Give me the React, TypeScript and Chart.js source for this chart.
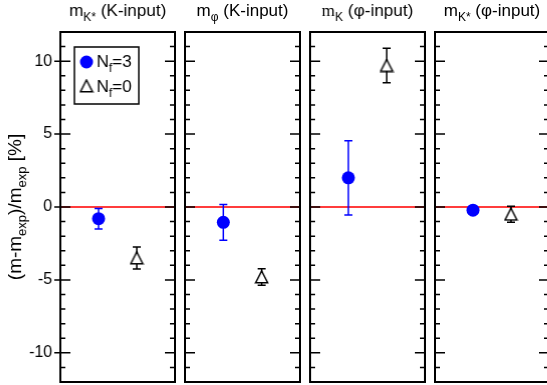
import React, { useEffect, useRef } from 'react';
import { Chart, registerables } from 'chart.js';

Chart.register(...registerables);

// ---------------- data ----------------
const panelNames = ['mK* (K-input)', 'mφ (K-input)', 'mK (φ-input)', 'mK* (φ-input)'];
const seriesLabels = ['Nf=3', 'Nf=0'];
const xPositions = [1, 2];
const nf3Values = [-0.8, -1.05, 2.0, -0.22];
const nf3Errors = [0.7, 1.23, 2.55, 0.15];
const nf0Values = [-3.5, -4.8, 9.7, -0.5];
const nf0Errors = [0.75, 0.57, 1.18, 0.55];
const yTickLabels = [-10, -5, 0, 5, 10];
const yMin = -12;
const yMax = 12;

type Part = { t: string; sub?: boolean; serif?: boolean };

const titleParts: Part[][] = [
  [{ t: 'm' }, { t: 'K*', sub: true }, { t: ' (K-input)' }],
  [{ t: 'm' }, { t: 'φ', sub: true }, { t: ' (K-input)' }],
  [{ t: 'm', serif: true }, { t: 'K', sub: true }, { t: ' (φ-input)' }],
  [{ t: 'm' }, { t: 'K*', sub: true }, { t: ' (φ-input)' }],
];
const yLabelParts: Part[] = [
  { t: '(m-m' }, { t: 'exp', sub: true }, { t: ')/m' }, { t: 'exp', sub: true }, { t: ' [%]' },
];
const legendParts: Part[][] = [
  [{ t: 'N' }, { t: 'f', sub: true }, { t: '=3' }],
  [{ t: 'N' }, { t: 'f', sub: true }, { t: '=0' }],
];

// ---------------- layout ----------------
const SANS = '"Liberation Sans", Arial, Helvetica, sans-serif';
const SERIF = '"Liberation Serif", "Times New Roman", serif';
const panelEdges: [number, number][] = [
  [60, 174.5],
  [184.5, 300],
  [310, 424.5],
  [435, 549],
];
const TOP = 32;
const BOTTOM = 382;
const H = 385;
const SIDE = 8;
const BLUE = '#0000ff';
const RED = '#ff3c3c';

function drawRich(
  ctx: CanvasRenderingContext2D,
  parts: Part[],
  x: number,
  y: number,
  size: number,
  subSize: number,
  drop: number,
  align: 'center' | 'left'
) {
  const fontOf = (p: Part) => `${p.sub ? subSize : size}px ${p.serif ? SERIF : SANS}`;
  const widths = parts.map((p) => {
    ctx.font = fontOf(p);
    return ctx.measureText(p.t).width;
  });
  const total = widths.reduce((a, b) => a + b, 0);
  let cx = align === 'center' ? x - total / 2 : x;
  ctx.textAlign = 'left';
  ctx.textBaseline = 'alphabetic';
  ctx.fillStyle = '#000';
  parts.forEach((p, i) => {
    ctx.font = fontOf(p);
    ctx.fillText(p.t, cx, p.sub ? y + drop : y);
    cx += widths[i];
  });
}

function makeTriangle(): HTMLCanvasElement {
  const c = document.createElement('canvas');
  c.width = 15;
  c.height = 14;
  const g = c.getContext('2d')!;
  g.beginPath();
  g.moveTo(7.5, 1);
  g.lineTo(13.5, 12.75);
  g.lineTo(1.5, 12.75);
  g.closePath();
  g.fillStyle = '#fff';
  g.fill();
  g.lineWidth = 1.5;
  g.strokeStyle = '#000';
  g.stroke();
  return c;
}

function Panel({ index }: { index: number }) {
  const ref = useRef<HTMLCanvasElement>(null);
  const [L, R] = panelEdges[index];
  const first = index === 0;
  const canvasLeft = first ? 0 : L - SIDE;
  const canvasWidth = first ? R + SIDE : R - L + 2 * SIDE;

  useEffect(() => {
    const canvas = ref.current!;
    const tri = makeTriangle();

    const decor = {
      id: 'decor' + index,
      beforeDatasetsDraw(chart: any) {
        const { ctx, chartArea } = chart;
        const ys = chart.scales.y;
        const xs = chart.scales.x;
        ctx.save();
        // zero line
        const y0 = ys.getPixelForValue(0);
        ctx.strokeStyle = RED;
        ctx.lineWidth = 2;
        ctx.beginPath();
        ctx.moveTo(chartArea.left, y0);
        ctx.lineTo(chartArea.right, y0);
        ctx.stroke();
        // error bars
        chart.data.datasets.forEach((ds: any) => {
          ctx.strokeStyle = ds.errColor;
          ctx.lineWidth = 1.5;
          ds.data.forEach((pt: any, j: number) => {
            const e = ds.errors[j];
            const px = xs.getPixelForValue(pt.x);
            const pTop = ys.getPixelForValue(pt.y + e);
            const pBot = ys.getPixelForValue(pt.y - e);
            ctx.beginPath();
            ctx.moveTo(px, pTop);
            ctx.lineTo(px, pBot);
            ctx.moveTo(px - 4, pTop);
            ctx.lineTo(px + 4, pTop);
            ctx.moveTo(px - 4, pBot);
            ctx.lineTo(px + 4, pBot);
            ctx.stroke();
          });
        });
        ctx.restore();
      },
      afterDraw(chart: any) {
        const { ctx, chartArea } = chart;
        const ys = chart.scales.y;
        ctx.save();
        // tick marks
        ctx.strokeStyle = '#000';
        ctx.lineWidth = 1.5;
        for (let v = yMin + 1; v <= yMax - 1; v++) {
          const py = ys.getPixelForValue(v);
          const major = v % 5 === 0;
          const len = major ? 10 : 5;
          ctx.beginPath();
          ctx.moveTo(first && major ? chartArea.left - 6 : chartArea.left, py);
          ctx.lineTo(chartArea.left + len, py);
          ctx.moveTo(chartArea.right - len, py);
          ctx.lineTo(chartArea.right, py);
          ctx.stroke();
        }
        // frame
        ctx.lineWidth = 2;
        ctx.strokeRect(
          chartArea.left,
          chartArea.top,
          chartArea.right - chartArea.left,
          chartArea.bottom - chartArea.top
        );
        // title
        drawRich(ctx, titleParts[index], (chartArea.left + chartArea.right) / 2, 16, 17, 12, 5, 'center');
        if (first) {
          // y label
          ctx.save();
          ctx.translate(21, (chartArea.top + chartArea.bottom) / 2);
          ctx.rotate(-Math.PI / 2);
          drawRich(ctx, yLabelParts, 0, 0, 19, 13, 5, 'center');
          ctx.restore();
          // legend
          ctx.lineWidth = 1.5;
          ctx.strokeStyle = '#000';
          ctx.strokeRect(74, 47, 64, 57);
          ctx.fillStyle = BLUE;
          ctx.beginPath();
          ctx.arc(86, 62, 6.5, 0, Math.PI * 2);
          ctx.fill();
          ctx.drawImage(tri, 86 - tri.width / 2, 86 - tri.height / 2);
          drawRich(ctx, legendParts[0], 96, 67, 17, 12, 5, 'left');
          drawRich(ctx, legendParts[1], 96, 92, 17, 12, 5, 'left');
        }
        ctx.restore();
      },
    };

    const chart = new Chart(canvas, {
      type: 'scatter',
      data: {
        datasets: [
          {
            label: seriesLabels[0],
            data: [{ x: xPositions[0], y: nf3Values[index] }],
            errors: [nf3Errors[index]],
            errColor: BLUE,
            pointStyle: 'circle',
            pointRadius: 6.5,
            pointBackgroundColor: BLUE,
            pointBorderWidth: 0,
            pointBorderColor: BLUE,
          } as any,
          {
            label: seriesLabels[1],
            data: [{ x: xPositions[1], y: nf0Values[index] }],
            errors: [nf0Errors[index]],
            errColor: '#000',
            pointStyle: tri,
            pointRadius: 7,
            pointBorderWidth: 0,
          } as any,
        ],
      },
      options: {
        responsive: false,
        animation: false,
        events: [],
        layout: {
          autoPadding: false,
          padding: { left: first ? 0 : SIDE, right: SIDE, top: TOP, bottom: H - BOTTOM },
        },
        plugins: {
          legend: { display: false },
          tooltip: { enabled: false },
          title: { display: false },
        },
        scales: {
          x: { type: 'linear', min: 0, max: 3, display: false },
          y: {
            type: 'linear',
            min: yMin,
            max: yMax,
            display: first,
            grid: { display: false, drawTicks: false },
            border: { display: false },
            afterFit: (scale: any) => {
              if (first) {
                scale.width = L;
                scale.paddingTop = 0;
                scale.paddingBottom = 0;
              }
            },
            ticks: {
              stepSize: 5,
              autoSkip: false,
              padding: 8,
              color: '#000',
              font: { family: SANS, size: 16 },
              callback: (v: any) => (yTickLabels.includes(Number(v)) ? String(v) : ''),
            },
          },
        },
      },
      plugins: [decor],
    });
    return () => chart.destroy();
  }, [index]);

  return (
    <canvas
      ref={ref}
      width={canvasWidth}
      height={H}
      style={{ position: 'absolute', left: canvasLeft, top: 0, width: canvasWidth, height: H }}
    />
  );
}

export default function App() {
  return (
    <div
      style={{
        position: 'absolute',
        left: 0,
        top: 0,
        width: 547,
        height: 385,
        overflow: 'hidden',
        background: '#fff',
      }}
    >
      {panelNames.map((name, i) => (
        <Panel key={name} index={i} />
      ))}
    </div>
  );
}
